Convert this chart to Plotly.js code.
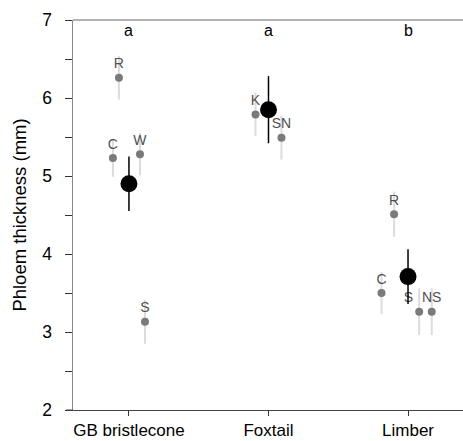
<!DOCTYPE html>
<html>
<head>
<meta charset="utf-8">
<script src="https://cdn.plot.ly/plotly-3.0.1.min.js"></script>
<style>html,body{margin:0;padding:0;overflow:hidden;background:#fff;}</style>
</head>
<body>
<div id="chart" style="width:463px;height:441px;"></div>
<script>
// Species (categories)
const species = ['GB bristlecone', 'Foxtail', 'Limber'];
// Species means and error
const speciesMean = [4.90, 5.85, 3.71];
const speciesErr = [0.35, 0.43, 0.35];
// Group letters
const groupLetters = ['a', 'a', 'b'];

// Site-level values per species
const gbSites = ['R', 'C', 'W', 'S'];
const gbMean = [6.26, 5.23, 5.28, 3.13];
const gbErr = [0.28, 0.24, 0.27, 0.28];

const foxSites = ['K', 'SN'];
const foxMean = [5.79, 5.49];
const foxErr = [0.28, 0.28];

const limSites = ['C', 'R', 'S', 'NS'];
const limMean = [3.50, 4.51, 3.26, 3.26];
const limErr = [0.27, 0.29, 0.30, 0.30];

// horizontal dodge of site points around each species position
const gbDodge = [-0.072, -0.115, 0.079, 0.115];
const foxDodge = [-0.093, 0.093];
const limDodge = [-0.19, -0.10, 0.08, 0.17];

const FONT = 'Liberation Sans, Arial, sans-serif';

function siteTrace(idx, names, means, errs, dodge, positions) {
  return {
    type: 'scatter',
    mode: 'markers+text',
    x: dodge.map(d => idx + d),
    y: means,
    text: names,
    textposition: positions || 'top center',
    textfont: {family: FONT, size: 14, color: '#505050'},
    marker: {color: '#7a7a7a', size: 8},
    error_y: {type: 'data', array: errs, visible: true, color: '#dcdcdc', thickness: 2, width: 0},
    cliponaxis: false,
    hoverinfo: 'skip',
    showlegend: false
  };
}

const traces = [
  siteTrace(0, gbSites, gbMean, gbErr, gbDodge),
  siteTrace(1, foxSites, foxMean, foxErr, foxDodge),
  siteTrace(2, limSites, limMean, limErr, limDodge, ['top center', 'top center', 'top left', 'top center']),
  {
    type: 'scatter',
    mode: 'markers',
    x: species.map((s, i) => i),
    y: speciesMean,
    marker: {color: '#000', size: 17},
    error_y: {type: 'data', array: speciesErr, visible: true, color: '#000', thickness: 1.5, width: 0},
    showlegend: false,
    hoverinfo: 'skip'
  }
];

const yTickVals = [];
const yTickText = [];
for (let v = 2; v <= 7.001; v += 0.5) {
  yTickVals.push(v);
  yTickText.push(Number.isInteger(v) ? String(v) : '');
}
const halfVals = yTickVals.filter(v => !Number.isInteger(v));

const layout = {
  width: 463, height: 441,
  margin: {l: 73, r: 0, t: 20, b: 31},
  paper_bgcolor: '#fff', plot_bgcolor: '#fff',
  font: {family: FONT, color: '#000'},
  xaxis: {
    range: [-0.401, 2.394],
    tickvals: species.map((s, i) => i),
    ticktext: species,
    ticks: 'outside', ticklen: 5, tickcolor: '#333', tickwidth: 1,
    showline: true, linecolor: '#444', linewidth: 1,
    showgrid: false, zeroline: false,
    tickfont: {family: FONT, size: 17, color: '#000'},
    ticklabelstandoff: 0
  },
  yaxis: {
    range: [2, 7],
    tickvals: yTickVals,
    ticktext: yTickText,
    ticks: 'outside', ticklen: 7, tickcolor: '#333', tickwidth: 1,
    showline: true, linecolor: '#888', linewidth: 1.5,
    showgrid: false, zeroline: false,
    tickfont: {family: FONT, size: 17.5, color: '#000'},
    ticklabelstandoff: 9,
    title: {text: 'Phloem thickness (mm)', font: {family: FONT, size: 18.5, color: '#000'}, standoff: 11}
  },
  yaxis2: {
    overlaying: 'y', side: 'right', anchor: 'x',
    range: [2, 7],
    tickvals: halfVals,
    ticks: 'inside', ticklen: 4, tickcolor: '#444',
    showticklabels: false, showline: false, showgrid: false, zeroline: false
  },
  shapes: [
    {type: 'line', xref: 'paper', yref: 'paper', x0: 0, x1: 1, y0: 1, y1: 1, line: {color: '#999', width: 1.5}},
    {type: 'line', xref: 'paper', yref: 'paper', x0: -0.018, x1: 0, y0: 0, y1: 0, line: {color: '#444', width: 1}}
  ],
  annotations: groupLetters.map((t, i) => ({
    x: i, y: 6.86, xref: 'x', yref: 'y', text: t, showarrow: false,
    font: {family: FONT, size: 16, color: '#000'}
  }))
};

Plotly.newPlot('chart', traces, layout, {staticPlot: true, displayModeBar: false});
</script>
</body>
</html>
